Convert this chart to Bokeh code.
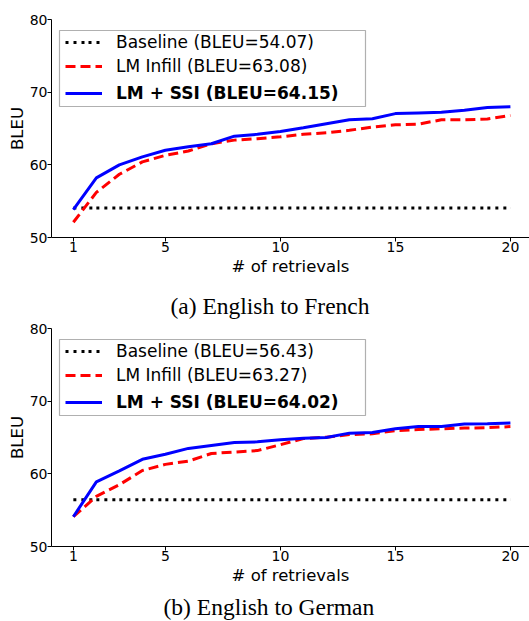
from bokeh.plotting import figure
from bokeh.layouts import column
from bokeh.models import Range1d, Legend, LegendItem, BoxAnnotation, Title, FixedTicker
from bokeh.embed import file_html
from bokeh.resources import INLINE

# ---- data ----
retrievals = list(range(1, 21))
x_ticks = [1, 5, 10, 15, 20]
y_ticks = [50, 60, 70, 80]

fr_baseline = 54.07
fr_lm_infill = [52.1, 56.2, 58.7, 60.4, 61.3, 61.9, 62.9, 63.4, 63.6, 63.85,
                64.2, 64.4, 64.75, 65.2, 65.5, 65.6, 66.2, 66.2, 66.3, 66.8]
fr_lm_ssi = [53.85, 58.2, 60.0, 61.1, 62.0, 62.5, 62.9, 63.95, 64.2, 64.6,
             65.1, 65.65, 66.2, 66.35, 67.05, 67.15, 67.25, 67.5, 67.9, 68.0]
fr_labels = ["Baseline (BLEU=54.07)", "LM Infill (BLEU=63.08)", "LM + SSI (BLEU=64.15)"]

de_baseline = 56.43
de_lm_infill = [54.1, 56.9, 58.5, 60.45, 61.3, 61.75, 62.8, 63.0, 63.2, 64.0,
                64.85, 65.05, 65.4, 65.5, 65.95, 66.1, 66.2, 66.3, 66.35, 66.5]
de_lm_ssi = [54.1, 58.9, 60.4, 62.0, 62.7, 63.5, 63.9, 64.3, 64.4, 64.7,
             64.9, 65.0, 65.6, 65.7, 66.2, 66.5, 66.5, 66.85, 66.9, 67.0]
de_labels = ["Baseline (BLEU=56.43)", "LM Infill (BLEU=63.27)", "LM + SSI (BLEU=64.02)"]

captions = ["(a) English to French", "(b) English to German"]

FONT = "DejaVu Sans"


def caption_title(text, offset, standoff, valign):
    return Title(text=text, align="left", vertical_align=valign,
                 text_font="Liberation Serif", text_font_size="23.5px",
                 text_font_style="normal", text_color="black",
                 offset=offset, standoff=standoff)


def make_panel(baseline, infill, ssi, labels, border_top):
    p = figure(frame_width=478, frame_height=218,
               x_range=Range1d(0.05, 20.83), y_range=Range1d(50, 80),
               output_backend="svg", toolbar_location=None,
               min_border_left=51, min_border_right=0,
               min_border_top=border_top, min_border_bottom=0)
    r_base = p.line(retrievals, [baseline] * len(retrievals), line_color="black",
                    line_width=3, line_dash="3 5 3 5 3 4")
    r_inf = p.line(retrievals, infill, line_color="#ff0000", line_width=3, line_dash="10 5")
    r_ssi = p.line(retrievals, ssi, line_color="#0000ff", line_width=3)

    p.xaxis.ticker = FixedTicker(ticks=x_ticks)
    p.yaxis.ticker = FixedTicker(ticks=y_ticks)
    p.xaxis.axis_label = "# of retrievals"
    p.yaxis.axis_label = "BLEU"
    for ax in p.axis:
        ax.major_label_text_font_size = "14px"
        ax.major_label_text_font = FONT
        ax.major_label_text_color = "black"
        ax.axis_label_text_font_size = "16.5px"
        ax.axis_label_text_font = FONT
        ax.axis_label_text_font_style = "normal"
        ax.axis_label_text_color = "black"
        ax.minor_tick_line_color = None
        ax.major_tick_in = 0
        ax.major_tick_out = 4
        ax.major_tick_line_color = "black"
        ax.axis_line_color = "black"
    p.xaxis.major_label_standoff = 0
    p.xaxis.axis_label_standoff = 2
    p.yaxis.major_label_standoff = 0
    p.yaxis.axis_label_standoff = 0
    p.xgrid.visible = False
    p.ygrid.visible = False
    p.outline_line_color = None

    box = BoxAnnotation(left=8, right=314, bottom=131, top=207,
                        left_units="screen", right_units="screen",
                        top_units="screen", bottom_units="screen",
                        fill_color="white", fill_alpha=1,
                        line_color="#b0b0b0", line_alpha=1, line_width=1.2)
    p.add_layout(box)

    common = dict(padding=0, spacing=4, margin=0, label_height=20, glyph_height=20,
                  glyph_width=37, label_standoff=14, label_text_font_size="17px",
                  label_text_font=FONT, label_text_color="black",
                  border_line_color=None, background_fill_alpha=0)
    leg_a = Legend(items=[LegendItem(label=labels[0], renderers=[r_base]),
                          LegendItem(label=labels[1], renderers=[r_inf])],
                   location=(14, 161), **common)
    leg_b = Legend(items=[LegendItem(label=labels[2], renderers=[r_ssi])],
                   location=(14, 134), label_text_font_style="bold", **common)
    p.add_layout(leg_a)
    p.add_layout(leg_b)
    return p


p1 = make_panel(fr_baseline, fr_lm_infill, fr_lm_ssi, fr_labels, 19)
p2 = make_panel(de_baseline, de_lm_infill, de_lm_ssi, de_labels, 50)
# caption of panel (a) sits between the two plots, caption (b) below the second
p2.add_layout(caption_title(captions[0], 119, 20, "bottom"), "above")
p2.add_layout(caption_title(captions[1], 112, 8, "bottom"), "below")

layout = column(p1, p2)
open("out.html", "w").write(file_html(layout, INLINE))
